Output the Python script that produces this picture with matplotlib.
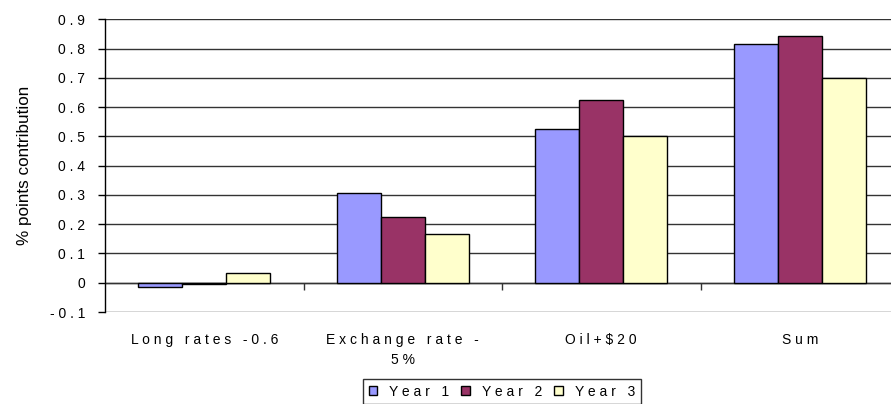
import numpy as np
import matplotlib.pyplot as plt
from matplotlib.ticker import FixedLocator, NullFormatter

categories = ['Long rates -0.6', 'Exchange rate -\n5%', 'Oil+$20', 'Sum']
year1 = [-0.016, 0.306, 0.526, 0.816]
year2 = [-0.004, 0.224, 0.624, 0.842]
year3 = [0.032, 0.166, 0.502, 0.698]
series_names = ['Year 1', 'Year 2', 'Year 3']
colors = ['#9999FF', '#993366', '#FFFFCC']
yticks = [-0.1, 0, 0.1, 0.2, 0.3, 0.4, 0.5, 0.6, 0.7, 0.8, 0.9]

plt.rcParams['font.family'] = ['Liberation Sans', 'DejaVu Sans']


def spaced(s):
    # wide letter spacing like the original: a space between every character
    return '\n'.join(' '.join(line) for line in s.split('\n'))


fig = plt.figure(figsize=(8.91, 4.04), dpi=100)
ax = fig.add_axes([105 / 891, 1 - 312 / 404, 794 / 891, 292.7 / 404])

x = np.arange(len(categories))
w = 0.222
for i, (vals, name, c) in enumerate(zip([year1, year2, year3], series_names, colors)):
    ax.bar(x + (i - 1) * w, vals, w, color=c, edgecolor='black', linewidth=1,
           label=spaced(name), zorder=3)

ax.set_xlim(-0.5, len(categories) - 0.5)
ax.set_ylim(-0.1, 0.9)
ax.set_yticks(yticks)
ax.set_yticklabels([spaced('%g' % t) for t in yticks], fontsize=10)
ax.grid(axis='y', color='#333333', linewidth=1, zorder=0)
ax.axhline(0, color='#333333', linewidth=1, zorder=2)

for s in ['top', 'right']:
    ax.spines[s].set_visible(False)
ax.spines['left'].set_linewidth(1)
ax.spines['bottom'].set_position(('data', 0))
ax.spines['bottom'].set_visible(False)

ax.xaxis.set_major_locator(FixedLocator([0.5, 1.5, 2.5]))
ax.xaxis.set_major_formatter(NullFormatter())
ax.tick_params(axis='x', which='major', length=5, width=1, color='#333333')
ax.xaxis.set_minor_locator(FixedLocator(list(x)))
ax.set_xticklabels([spaced(c) for c in categories], minor=True, fontsize=10,
                   linespacing=1.55)
ax.tick_params(axis='x', which='minor', length=0, pad=36)
ax.tick_params(axis='y', length=5, width=1, pad=9.4)

ax.set_ylabel('% points contribution', fontsize=12.3)
ax.yaxis.set_label_coords(-0.092, 0.5)

fig.legend(loc='center', bbox_to_anchor=(502 / 891, 1 - 391.5 / 404), ncol=3,
           fontsize=10, frameon=True, fancybox=False, edgecolor='black',
           handlelength=0.6, handleheight=0.6, handletextpad=0.9,
           columnspacing=0.85, borderpad=0.4, borderaxespad=0)

fig.savefig('out.png', dpi=100)
